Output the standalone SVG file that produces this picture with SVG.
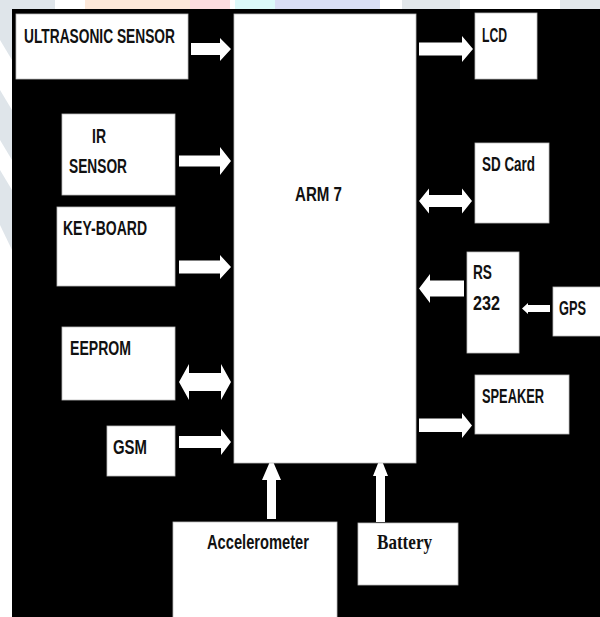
<svg xmlns="http://www.w3.org/2000/svg" width="600" height="617" viewBox="0 0 600 617">
<style>
.box{fill:#ffffff;stroke:#bdbdbd;stroke-width:0.8}
.arr{fill:#ffffff}
.t{font-family:"Liberation Sans",Arial,sans-serif;font-weight:bold;font-size:20px;fill:#111111}
.s{font-family:"Liberation Serif","Times New Roman",serif;font-weight:bold;font-size:21px;fill:#111111}
</style>
<rect x="0" y="0" width="600" height="617" fill="#ffffff"/>
<g id="watermark">
<rect x="0" y="0" width="55" height="9" fill="#dfe5ea"/>
<rect x="85" y="0" width="105" height="9" fill="#fde8d9"/>
<rect x="190" y="0" width="40" height="9" fill="#fddde0"/>
<rect x="235" y="0" width="40" height="9" fill="#dcfafa"/>
<rect x="275" y="0" width="105" height="9" fill="#d9def5"/>
<rect x="402" y="0" width="58" height="9" fill="#e2e7ea"/>
<rect x="560" y="0" width="40" height="9" fill="#e2e7ea"/>
<polygon points="0,0 12,0 12,60 0,40" fill="#dfe5ea"/>
<polygon points="0,90 12,110 12,160 0,140" fill="#dfe5ea"/>
<polygon points="0,170 12,190 12,250 0,225" fill="#dfe5ea"/>
</g>
<rect x="12" y="9" width="588" height="608" fill="#000000"/>
<g id="connectors">
<polygon class="arr" points="191,43 220,43 220,38 231,49 220,61 220,55 191,55"/>
<polygon class="arr" points="179,155.5 220,155.5 220,147 231,161 220,175 220,166.5 179,166.5"/>
<polygon class="arr" points="179,260.5 220,260.5 220,255 231,267 220,279 220,273.5 179,273.5"/>
<polygon class="arr" points="179,382 189,364 189,373 221,373 221,364 231,382 221,400 221,391 189,391 189,400"/>
<polygon class="arr" points="179,436 221,436 221,429 231,442 221,455 221,448 179,448"/>
<polygon class="arr" points="419,42.5 462,42.5 462,36 473,49 462,62 462,55.5 419,55.5"/>
<polygon class="arr" points="419,201 429,188.5 429,195 462,195 462,188.5 472,201 462,213.5 462,207 429,207 429,213.5"/>
<polygon class="arr" points="419,288.5 430,274 430,280.5 464,280.5 464,296.5 430,296.5 430,303"/>
<polygon class="arr" points="522,308.5 528,303 528,305 550,305 550,312 528,312 528,314"/>
<polygon class="arr" points="419,418.5 462,418.5 462,413 472,425.5 462,438 462,432 419,432"/>
<polygon class="arr" points="267,519 267,480 262,480 271.5,458 281,480 276,480 276,519"/>
<polygon class="arr" points="376,522 376,476 373,476 380.5,457 388,476 385,476 385,522"/>
</g>
<g id="ultrasonic"><rect class="box" x="16" y="14" width="172" height="65"/><text class="t" x="24" y="43" textLength="151" lengthAdjust="spacingAndGlyphs">ULTRASONIC SENSOR</text></g>
<g id="ir"><rect class="box" x="62" y="114" width="113" height="81"/><text class="t" x="92" y="143" textLength="14" lengthAdjust="spacingAndGlyphs">IR</text><text class="t" x="69" y="173" textLength="58" lengthAdjust="spacingAndGlyphs">SENSOR</text></g>
<g id="keyboard"><rect class="box" x="57" y="207" width="118" height="79"/><text class="t" x="63" y="235" textLength="84" lengthAdjust="spacingAndGlyphs">KEY-BOARD</text></g>
<g id="eeprom"><rect class="box" x="62" y="327" width="113" height="73"/><text class="t" x="70" y="355" textLength="61" lengthAdjust="spacingAndGlyphs">EEPROM</text></g>
<g id="gsm"><rect class="box" x="107" y="426" width="68" height="50"/><text class="t" x="113" y="454" textLength="34" lengthAdjust="spacingAndGlyphs">GSM</text></g>
<g id="arm7"><rect class="box" x="234" y="14" width="182" height="449"/><text class="t" x="295" y="201" textLength="47" lengthAdjust="spacingAndGlyphs">ARM 7</text></g>
<g id="lcd"><rect class="box" x="475" y="13" width="62" height="66"/><text class="t" x="482" y="42" textLength="25" lengthAdjust="spacingAndGlyphs">LCD</text></g>
<g id="sdcard"><rect class="box" x="475" y="143" width="74" height="80"/><text class="t" x="482" y="171" textLength="53" lengthAdjust="spacingAndGlyphs">SD Card</text></g>
<g id="rs232"><rect class="box" x="467" y="252" width="52" height="101"/><text class="t" x="473" y="279" textLength="19" lengthAdjust="spacingAndGlyphs">RS</text><text class="t" x="473" y="310" textLength="27" lengthAdjust="spacingAndGlyphs">232</text></g>
<g id="gps"><rect class="box" x="553" y="287" width="48" height="49"/><text class="t" x="559" y="315" textLength="27" lengthAdjust="spacingAndGlyphs">GPS</text></g>
<g id="speaker"><rect class="box" x="475" y="375" width="94" height="59"/><text class="t" x="482" y="403" textLength="62" lengthAdjust="spacingAndGlyphs">SPEAKER</text></g>
<g id="accelerometer"><rect class="box" x="173" y="522" width="164" height="96"/><text class="t" x="207" y="549" textLength="102" lengthAdjust="spacingAndGlyphs">Accelerometer</text></g>
<g id="battery"><rect class="box" x="358" y="523" width="100" height="62"/><text class="s" x="377" y="549" textLength="55" lengthAdjust="spacingAndGlyphs">Battery</text></g>
</svg>
